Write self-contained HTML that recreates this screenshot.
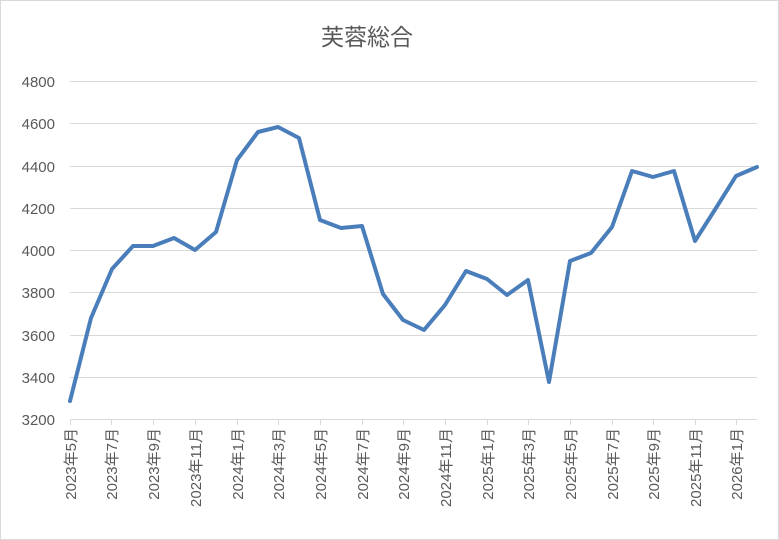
<!DOCTYPE html>
<html><head><meta charset="utf-8"><style>
body{margin:0;background:#fff}
svg{display:block}
text{font-family:"Liberation Sans","Noto Sans CJK JP",sans-serif;fill:#595959}
</style></head><body>
<svg width="779" height="540" xmlns="http://www.w3.org/2000/svg">
<rect x="0.5" y="0.5" width="778" height="539" fill="#fff" stroke="#d9d9d9"/>
<text x="367" y="45" font-size="23" text-anchor="middle">芙蓉総合</text>
<g stroke="#d9d9d9" stroke-width="1">
<line x1="70" x2="757" y1="81.5" y2="81.5"/>
<line x1="70" x2="757" y1="123.5" y2="123.5"/>
<line x1="70" x2="757" y1="166.5" y2="166.5"/>
<line x1="70" x2="757" y1="208.5" y2="208.5"/>
<line x1="70" x2="757" y1="250.5" y2="250.5"/>
<line x1="70" x2="757" y1="292.5" y2="292.5"/>
<line x1="70" x2="757" y1="335.5" y2="335.5"/>
<line x1="70" x2="757" y1="377.5" y2="377.5"/>
<line x1="70" x2="757" y1="419.5" y2="419.5"/>
</g>
<g font-size="15" text-anchor="end">
<text x="55" y="87">4800</text><text x="55" y="129">4600</text><text x="55" y="172">4400</text>
<text x="55" y="214">4200</text><text x="55" y="256">4000</text><text x="55" y="298">3800</text>
<text x="55" y="341">3600</text><text x="55" y="383">3400</text><text x="55" y="425">3200</text>
</g>
<g stroke="#d9d9d9">
<line x1="70.5" x2="70.5" y1="419" y2="425"/><line x1="111.5" x2="111.5" y1="419" y2="425"/>
<line x1="153.5" x2="153.5" y1="419" y2="425"/><line x1="195.5" x2="195.5" y1="419" y2="425"/>
<line x1="237.5" x2="237.5" y1="419" y2="425"/><line x1="278.5" x2="278.5" y1="419" y2="425"/>
<line x1="320.5" x2="320.5" y1="419" y2="425"/><line x1="362.5" x2="362.5" y1="419" y2="425"/>
<line x1="403.5" x2="403.5" y1="419" y2="425"/><line x1="445.5" x2="445.5" y1="419" y2="425"/>
<line x1="487.5" x2="487.5" y1="419" y2="425"/><line x1="528.5" x2="528.5" y1="419" y2="425"/>
<line x1="570.5" x2="570.5" y1="419" y2="425"/><line x1="612.5" x2="612.5" y1="419" y2="425"/>
<line x1="653.5" x2="653.5" y1="419" y2="425"/><line x1="695.5" x2="695.5" y1="419" y2="425"/>
<line x1="736.5" x2="736.5" y1="419" y2="425"/>
</g>
<g font-size="15" text-anchor="end">
<text transform="translate(76,428) rotate(-90)">2023年5月</text>
<text transform="translate(117,428) rotate(-90)">2023年7月</text>
<text transform="translate(159,428) rotate(-90)">2023年9月</text>
<text transform="translate(201,428) rotate(-90)">2023年11月</text>
<text transform="translate(243,428) rotate(-90)">2024年1月</text>
<text transform="translate(284,428) rotate(-90)">2024年3月</text>
<text transform="translate(326,428) rotate(-90)">2024年5月</text>
<text transform="translate(368,428) rotate(-90)">2024年7月</text>
<text transform="translate(409,428) rotate(-90)">2024年9月</text>
<text transform="translate(451,428) rotate(-90)">2024年11月</text>
<text transform="translate(493,428) rotate(-90)">2025年1月</text>
<text transform="translate(534,428) rotate(-90)">2025年3月</text>
<text transform="translate(576,428) rotate(-90)">2025年5月</text>
<text transform="translate(618,428) rotate(-90)">2025年7月</text>
<text transform="translate(659,428) rotate(-90)">2025年9月</text>
<text transform="translate(701,428) rotate(-90)">2025年11月</text>
<text transform="translate(742,428) rotate(-90)">2026年1月</text>
</g>
<polyline fill="none" stroke="#4a7ebb" stroke-width="4" stroke-linejoin="round" stroke-linecap="round" points="70,401 91,318 112,269 133,246 153,246 174,238 195,250 216,232 237,160 258,132 278,127 299,138 320,220 341,228 362,226 383,294 403,320 424,330 445,305 466,271 487,279 507,295 528,280 549,382 570,261 591,253 612,227 632,171 653,177 674,171 695,241 716,208 736,176 757,167"/>
</svg>
</body></html>
